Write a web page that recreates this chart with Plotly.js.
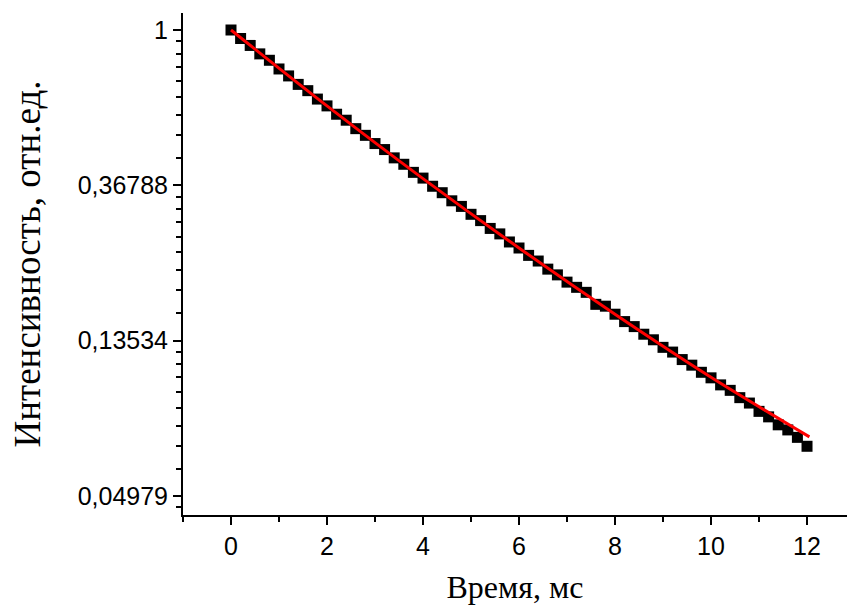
<!DOCTYPE html>
<html>
<head>
<meta charset="utf-8">
<script src="https://cdn.plot.ly/plotly-3.0.1.min.js"></script>
<style>html,body{margin:0;padding:0;background:#fff;}</style>
</head>
<body>
<div id="chart" style="width:847px;height:605px;"></div>
<script>
// Measured decay data (time, ms) and intensity (rel. units)
const timeMs = [0,0.2,0.4,0.6,0.8,1.0,1.2,1.4,1.6,1.8,2.0,2.2,2.4,2.6,2.8,3.0,3.2,3.4,3.6,3.8,
  4.0,4.2,4.4,4.6,4.8,5.0,5.2,5.4,5.6,5.8,6.0,6.2,6.4,6.6,6.8,7.0,7.2,7.4,7.6,7.8,
  8.0,8.2,8.4,8.6,8.8,9.0,9.2,9.4,9.6,9.8,10.0,10.2,10.4,10.6,10.8,11.0,11.2,11.4,11.6,11.8,12.0];
const intensity = [1.0000,0.94667,0.90539,0.85746,0.82287,0.77808,0.74402,0.70452,0.67666,0.64100,
  0.61345,0.58136,0.55939,0.52982,0.50748,0.48133,0.46306,0.43895,0.42120,0.39984,
  0.38537,0.36560,0.35076,0.33291,0.32113,0.30522,0.29307,0.27867,0.26903,0.25540,
  0.24568,0.23427,0.22591,0.21443,0.20665,0.19721,0.19071,0.18464,0.17093,0.16891,
  0.16040,0.15296,0.14810,0.14101,0.13604,0.12958,0.12569,0.11977,0.11553,0.11035,
  0.10649,0.10176,0.09824,0.09373,0.09052,0.08580,0.08282,0.07869,0.07614,0.07258,0.06853];

// Fit curve
const fitTime = [0,2,4,6,8,10,12.05];
const fitIntensity = [1.0,0.6134,0.3841,0.2457,0.1604,0.1069,0.0728];

// Axis ticks
const xTickVals = [0,2,4,6,8,10,12];
const xMinorVals = [-1,1,3,5,7,9,11];
const yTickVals = [1,0.36788,0.13534,0.04979];
const yTickText = ['1','0,36788','0,13534','0,04979'];
const xTitle = 'Время, мс';
const yTitle = 'Интенсивность, отн.ед.';

// Origin-style minor ticks: 8 equal linear subdivisions between major ticks
const yMinor = [];
for (let i = 0; i < yTickVals.length - 1; i++) {
  const a = yTickVals[i], b = yTickVals[i+1];
  for (let j = 1; j < 9; j++) yMinor.push(a - (a - b) * j / 9);
}
yMinor.push(yTickVals[3] - (yTickVals[3] - yTickVals[3] / Math.E) / 9);

const traces = [
  {x: timeMs, y: intensity, type: 'scatter', mode: 'markers',
   marker: {symbol: 'square', size: 11, color: '#000'}, hoverinfo: 'skip'},
  {x: fitTime, y: fitIntensity, type: 'scatter', mode: 'lines',
   line: {color: '#ff0000', width: 3, shape: 'spline'}, hoverinfo: 'skip'}
];

const tickFont = {size: 25, family: 'Liberation Sans, Arial, sans-serif', color: '#000'};
const titleFamily = 'Liberation Serif, Times New Roman, serif';

const layout = {
  width: 847, height: 605,
  margin: {l: 183, r: 0, t: 13, b: 90},
  paper_bgcolor: '#fff', plot_bgcolor: '#fff',
  showlegend: false,
  font: {family: 'Liberation Sans, Arial, sans-serif', color: '#000', size: 25},
  xaxis: {
    range: [-1.0, 12.833], showgrid: false, zeroline: false,
    showline: true, linecolor: '#000', linewidth: 2,
    tickmode: 'array', tickvals: xTickVals, ticktext: xTickVals.map(String),
    ticks: 'outside', ticklen: 8, tickwidth: 2, tickcolor: '#000',
    tickfont: tickFont,
    minor: {tickmode: 'array', tickvals: xMinorVals, ticks: 'outside', ticklen: 5, tickwidth: 2, tickcolor: '#000', showgrid: false},
    title: {text: xTitle, font: {family: titleFamily, size: 32, color: '#000'}, standoff: 18},
    automargin: false
  },
  yaxis: {
    type: 'log', range: [-1.35630, 0.04754], showgrid: false, zeroline: false,
    showline: true, linecolor: '#000', linewidth: 2,
    tickmode: 'array', tickvals: yTickVals, ticktext: yTickText,
    ticks: 'outside', ticklen: 8, tickwidth: 2, tickcolor: '#000',
    tickfont: tickFont,
    minor: {tickmode: 'array', tickvals: yMinor, ticks: 'outside', ticklen: 5, tickwidth: 2, tickcolor: '#000', showgrid: false},
    title: {text: yTitle, font: {family: titleFamily, size: 37, color: '#000'}, standoff: 26},
    automargin: false
  }
};

Plotly.newPlot('chart', traces, layout, {displayModeBar: false, staticPlot: true});
</script>
</body>
</html>
